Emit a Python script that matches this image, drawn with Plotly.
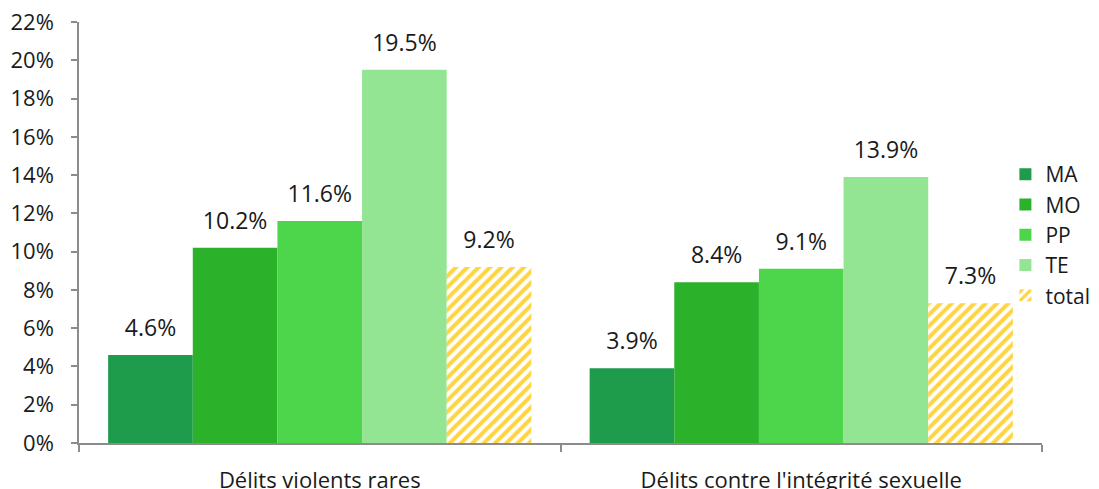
import plotly.graph_objects as go

categories = ["Délits violents rares", "Délits contre l'intégrité sexuelle"]
series_names = ["MA", "MO", "PP", "TE", "total"]
ma = [0.046, 0.039]
mo = [0.102, 0.084]
pp = [0.116, 0.091]
te = [0.195, 0.139]
total = [0.092, 0.073]
y_ticks = [0, 0.02, 0.04, 0.06, 0.08, 0.10, 0.12, 0.14, 0.16, 0.18, 0.20, 0.22]

colors = ["#1f9b4c", "#2bb22a", "#4dd64c", "#93e593", "#ffd43f"]
values = [ma, mo, pp, te, total]

FONT = "Open Sans, sans-serif"
fig = go.Figure()
for name, vals, col in zip(series_names, values, colors):
    marker = dict(color=col, line=dict(width=0))
    if name == "total":
        marker = dict(color="white", line=dict(width=0),
                      pattern=dict(shape="/", fgcolor=col, bgcolor="white",
                                   size=8, solidity=0.5, fgopacity=1,
                                   fillmode="overlay"))
    fig.add_trace(go.Bar(
        name=name, x=categories, y=vals, marker=marker,
        texttemplate="<span style='font-size:23px'>%{y:.1%}</span><br> ",
        textposition="outside", cliponaxis=False, constraintext="none",
        textfont=dict(family=FONT, size=10, color="#1a1a1a"),
    ))

fig.update_layout(
    width=1099, height=489,
    margin=dict(l=71, r=65, t=14, b=54, autoexpand=False),
    paper_bgcolor="white", plot_bgcolor="white",
    barmode="group", bargap=0.121, bargroupgap=0,
    font=dict(family=FONT, size=21, color="#1a1a1a"),
    legend=dict(x=0.962, xanchor="left", y=0.494, yanchor="middle",
                font=dict(size=21), bgcolor="rgba(0,0,0,0)",
                itemwidth=30, tracegroupgap=0),
    showlegend=True,
)
fig.update_yaxes(range=[0, 0.22], tickvals=y_ticks, tickformat=".0%",
                 tickfont=dict(size=22),
                 showgrid=False, zeroline=False, showline=True,
                 linecolor="#8c8c8c", linewidth=1.5, ticks="outside",
                 ticklen=6, tickcolor="#8c8c8c", tickwidth=1.5,
                 automargin=False, ticklabelstandoff=13,
                 ticklabeloverflow="allow")
fig.update_xaxes(showgrid=False, showline=True, linecolor="#8c8c8c",
                 tickfont=dict(size=22),
                 linewidth=1.5, ticks="outside", tickson="boundaries",
                 ticklen=7, tickcolor="#8c8c8c", tickwidth=1.5,
                 automargin=False, ticklabelstandoff=17,
                 ticklabeloverflow="allow")

fig.write_html("out.html")
